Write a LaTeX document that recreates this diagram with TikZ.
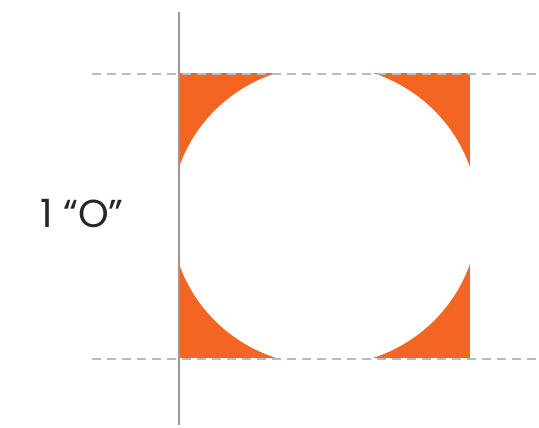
\documentclass[tikz,border=0pt]{standalone}
\usepackage{fontspec}
\setmainfont{Poppins}
\usetikzlibrary{positioning}
\definecolor{GlyphOrange}{HTML}{F26522}
\definecolor{GuideGray}{HTML}{BBBBBB}
\definecolor{AxisGray}{HTML}{999999}

\begin{document}
\begin{tikzpicture}[x=1pt, y=-1pt]
\useasboundingbox (0,0) rectangle (539,428);
% Key points
\coordinate (boxNW) at (179,73);
\coordinate (boxSE) at (470,358);
\coordinate (boxC) at (324.5,215.5);
\coordinate (topL) at (92,74);
\coordinate (topR) at (539,74);
\coordinate (botL) at (92,359);
\coordinate (botR) at (539,359);
\coordinate (stemT) at (179,12);
\coordinate (stemB) at (179,425);

% Em square and counter
\fill[GlyphOrange] (boxNW) rectangle (boxSE);
\begin{scope}
  \clip (boxNW) rectangle (boxSE);
  \fill[white] (boxC) ellipse [x radius=153.5pt, y radius=150pt];
\end{scope}

% Guide lines (cap height / baseline)
\draw[GuideGray, line width=1.6pt, dash pattern=on 9pt off 6pt] (topL) -- (topR);
\draw[GuideGray, line width=1.6pt, dash pattern=on 9pt off 6pt] (botL) -- (botR);

% Left edge
\draw[AxisGray, line width=1.8pt] (stemT) -- (stemB);

% Label
\node[font=\fontsize{39}{45}\selectfont, text=black!85] (label) at (82,214) {1 “O”};
\end{tikzpicture}
\end{document}
